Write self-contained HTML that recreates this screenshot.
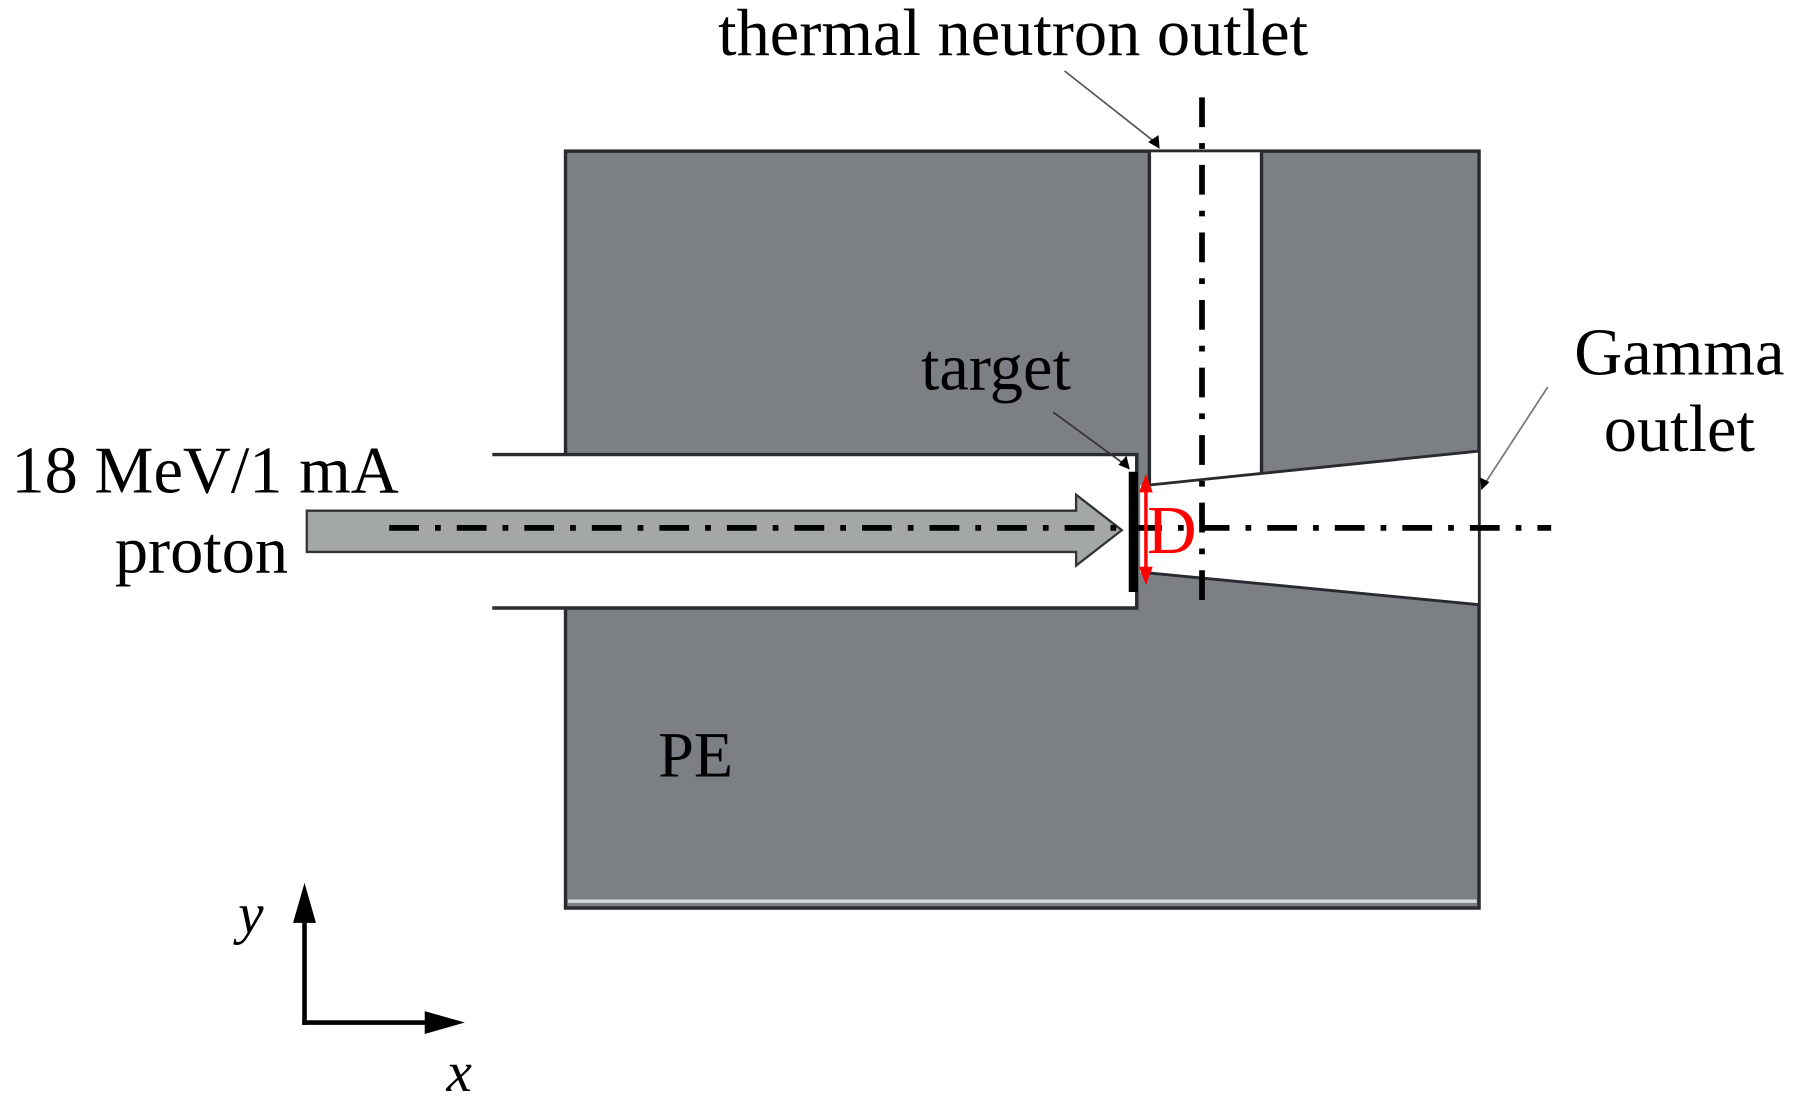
<!DOCTYPE html>
<html><head><style>html,body{margin:0;padding:0;background:#fff;overflow:hidden}svg{display:block}</style></head>
<body>
<svg width="1795" height="1113" viewBox="0 0 1568 972" preserveAspectRatio="none" xmlns="http://www.w3.org/2000/svg" font-family="Liberation Serif, serif">
<rect x="0" y="0" width="1568" height="972" fill="#fff"/>
<rect x="494" y="132" width="798" height="661" fill="#7c8085" stroke="#2a2a30" stroke-width="3"/>
<line x1="496" y1="787" x2="1290" y2="787" stroke="#d8d8d8" stroke-width="3"/>
<rect x="1004" y="133" width="98" height="300" fill="#fff"/>
<line x1="1004" y1="133" x2="1004" y2="425" stroke="#2a2a30" stroke-width="3"/>
<line x1="1102" y1="133" x2="1102" y2="414" stroke="#2a2a30" stroke-width="3"/>
<polygon points="996,424 1291,394 1291,528 996,500" fill="#fff"/>
<line x1="1000" y1="424" x2="1291" y2="394" stroke="#2a2a30" stroke-width="2.5"/>
<line x1="1000" y1="500" x2="1291" y2="528" stroke="#2a2a30" stroke-width="2.5"/>
<rect x="430" y="397" width="563" height="134" fill="#fff"/>
<polyline points="430,397 993,397 993,531 430,531" fill="none" stroke="#2a2a30" stroke-width="3"/>
<polygon points="268,446 940,446 940,432 980,463 940,494 940,482 268,482" fill="#a3a7a7" stroke="#333" stroke-width="2"/>
<rect x="986" y="412" width="8" height="105" fill="#000"/>
<line x1="340" y1="461" x2="1355" y2="461" stroke="#000" stroke-width="5" stroke-dasharray="26,14,5,14"/>
<line x1="1050" y1="85" x2="1050" y2="532" stroke="#000" stroke-width="5" stroke-dasharray="26,14,5,14"/>
<line x1="1001" y1="425" x2="1001" y2="500" stroke="#f00" stroke-width="3"/>
<polygon points="1001,414 995,430 1007,430" fill="#f00"/>
<polygon points="1001,511 995,495 1007,495" fill="#f00"/>
<text x="1002" y="483" font-size="60" fill="#f00">D</text>
<line x1="930" y1="62" x2="1010" y2="125" stroke="#555" stroke-width="1.5"/>
<polygon points="1013,130 1003,124 1012,118" fill="#000"/>
<line x1="920" y1="360" x2="983" y2="406" stroke="#333" stroke-width="1.5"/>
<polygon points="987,410 977,406 984,398" fill="#000"/>
<line x1="1352" y1="338" x2="1296" y2="424" stroke="#777" stroke-width="1.5"/>
<polygon points="1294,428 1293,417 1301,421" fill="#000"/>
<text x="885" y="48" font-size="58" text-anchor="middle">thermal neutron outlet</text>
<text x="870" y="340" font-size="58" text-anchor="middle">target</text>
<text x="1467" y="327" font-size="58" text-anchor="middle">Gamma</text>
<text x="1467" y="394" font-size="58" text-anchor="middle">outlet</text>
<text x="10" y="430" font-size="58">18 MeV/1 mA</text>
<text x="176" y="500" font-size="58" text-anchor="middle">proton</text>
<text x="575" y="678" font-size="56">PE</text>
<line x1="266" y1="895" x2="266" y2="800" stroke="#000" stroke-width="4"/>
<polygon points="266,771 256,806 276,806" fill="#000"/>
<line x1="264" y1="893" x2="372" y2="893" stroke="#000" stroke-width="4"/>
<polygon points="406,893 371,883 371,903" fill="#000"/>
<text x="208" y="815" font-size="50" font-style="italic">y</text>
<text x="390" y="953" font-size="50" font-style="italic">x</text>
</svg>
</body></html>
